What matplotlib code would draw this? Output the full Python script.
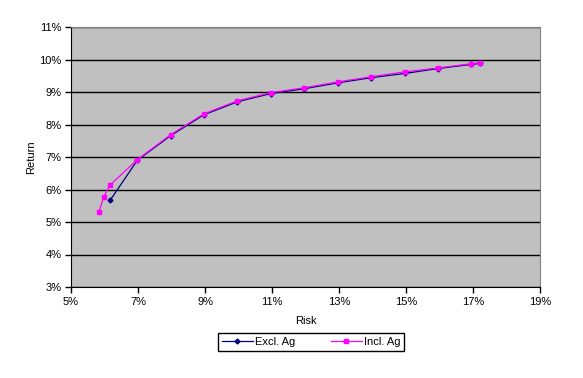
import matplotlib
matplotlib.use("Agg")
import matplotlib.pyplot as plt
from matplotlib.ticker import FuncFormatter, MultipleLocator, FixedLocator

plt.rcParams['font.family'] = ['Liberation Sans', 'DejaVu Sans']

excl_risk = [6.17, 6.98, 7.98, 8.97, 9.97, 10.96, 11.96, 12.96, 13.96, 14.96, 15.95, 16.95, 17.2]
excl_ret = [5.67, 6.90, 7.66, 8.30, 8.70, 8.95, 9.10, 9.28, 9.44, 9.57, 9.72, 9.85, 9.88]

incl_risk = [5.83, 5.98, 6.16, 6.98, 7.98, 8.97, 9.97, 10.96, 11.96, 12.96, 13.96, 14.96, 15.95, 16.95, 17.2]
incl_ret = [5.30, 5.78, 6.13, 6.92, 7.69, 8.33, 8.73, 8.98, 9.13, 9.31, 9.47, 9.62, 9.74, 9.87, 9.90]

x_ticks = [5, 7, 9, 11, 13, 15, 17, 19]

fig = plt.figure(figsize=(5.83, 3.78), dpi=100)
ax = fig.add_axes([71/583, 1-287/378, (540-71)/583, (287-27)/378])
ax.set_facecolor('#C0C0C0')

ax.plot(excl_risk, excl_ret, color='#000080', lw=0.9, marker='D', ms=2.5, label='Excl. Ag', zorder=3)
ax.plot(incl_risk, incl_ret, color='#FF00FF', lw=0.9, marker='s', ms=3.5, label='Incl. Ag', zorder=4)

ax.set_xlim(5, 19)
ax.set_ylim(3, 11)
ax.xaxis.set_major_locator(FixedLocator(x_ticks))
ax.yaxis.set_major_locator(MultipleLocator(1))
fmt = FuncFormatter(lambda v, p: f"{v:.0f}%")
ax.xaxis.set_major_formatter(fmt)
ax.yaxis.set_major_formatter(fmt)
ax.grid(axis='y', color='black', lw=1)
ax.set_axisbelow(True)
for s in ['top', 'right']:
    ax.spines[s].set_color('#808080')
for s in ['left', 'bottom']:
    ax.spines[s].set_color('black')
ax.tick_params(direction='out', length=4, labelsize=8, width=1, pad=3)
ax.set_xlabel('Risk', fontsize=8, labelpad=7)
ax.set_ylabel('Return', fontsize=8, labelpad=2)

leg = fig.legend(loc='center', bbox_to_anchor=(311/583, 1-342/378), ncol=2, fontsize=8,
                 frameon=True, fancybox=False, edgecolor='black', framealpha=1,
                 handlelength=2.8, handletextpad=0.2, columnspacing=3.2, borderpad=0.35,
                 borderaxespad=0)
leg.get_frame().set_linewidth(1)

fig.savefig('out.png', dpi=100)
